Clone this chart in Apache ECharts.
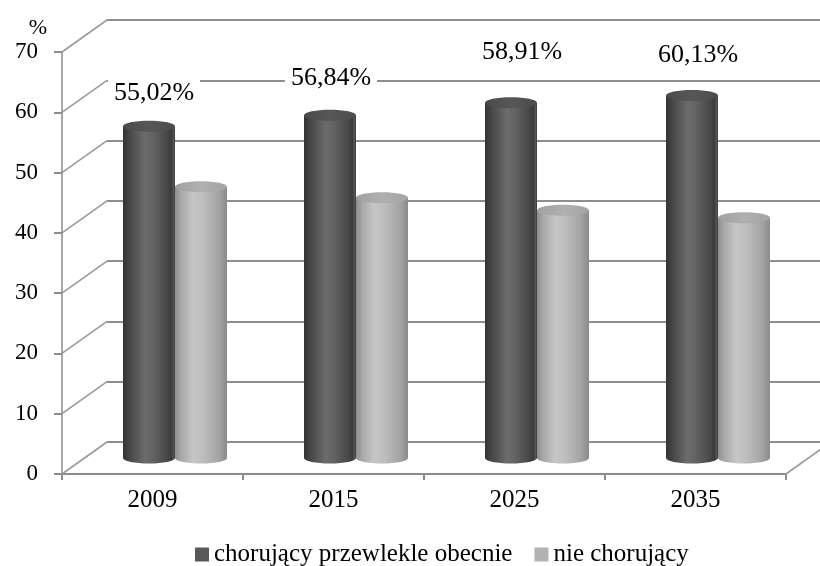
<!DOCTYPE html>
<html>
<head>
<meta charset="utf-8">
<script src="https://cdn.jsdelivr.net/npm/echarts@6/dist/echarts.min.js"></script>
<style>
  html, body { margin: 0; padding: 0; background: #fff; }
  #chart { width: 820px; height: 566px; }
</style>
</head>
<body>
<div id="chart"></div>
<script>
// Data
const years = ['2009', '2015', '2025', '2035'];
const chronicNow = [55.02, 56.84, 58.91, 60.13];
const notChronic = [44.98, 43.16, 41.09, 39.87];
const yTicks = [0, 10, 20, 30, 40, 50, 60, 70];
const seriesNames = ['chorujący przewlekle obecnie', 'nie chorujący'];

// Layout of the pseudo-3D box
const FRONT = { left: 62, top: 52, width: 724, height: 422 };
const DEPTH_X = 45, DEPTH_Y = -32;   // offset of the back wall
const BAR_W = 52, RY = 5.5;          // cylinder width and ellipse radius
// nudges for the value labels above the dark cylinders
const labelShift = [[5, -33], [1, -37], [11, -51], [6, -40]];

const SERIF = '"Liberation Serif", "Times New Roman", serif';
const G = echarts.graphic;

const darkBody = () => new G.LinearGradient(0, 0, 1, 0, [
  { offset: 0, color: '#343434' }, { offset: 0.15, color: '#4a4a4a' },
  { offset: 0.42, color: '#6c6c6c' }, { offset: 0.6, color: '#616161' },
  { offset: 0.85, color: '#474747' }, { offset: 0.93, color: '#3b3b3b' },
  { offset: 0.97, color: '#555555' }, { offset: 1, color: '#3a3a3a' }]);
const darkTop = () => new G.LinearGradient(0, 0, 1, 0, [
  { offset: 0, color: '#4a4a4a' }, { offset: 0.5, color: '#575757' }, { offset: 1, color: '#4c4c4c' }]);
const lightBody = () => new G.LinearGradient(0, 0, 1, 0, [
  { offset: 0, color: '#8e8e8e' }, { offset: 0.12, color: '#a8a8a8' },
  { offset: 0.35, color: '#c6c6c6' }, { offset: 0.55, color: '#bdbdbd' },
  { offset: 0.85, color: '#a3a3a3' }, { offset: 1, color: '#8a8a8a' }]);
const lightTop = () => new G.LinearGradient(0, 0, 1, 0, [
  { offset: 0, color: '#a0a0a0' }, { offset: 0.5, color: '#b0b0b0' }, { offset: 1, color: '#a4a4a4' }]);

function fmt(v) { return v.toFixed(2).replace('.', ',') + '%'; }

function cylinder(side) {
  return function (params, api) {
    const cat = api.value(0), v = api.value(1);
    const top = api.coord([cat, v]);
    const base = api.coord([cat, 0]);
    const cx = top[0] + DEPTH_X / 2 + (side === 0 ? -BAR_W / 2 : BAR_W / 2);
    const ty = top[1] + DEPTH_Y / 2;
    const by = base[1] + DEPTH_Y / 2;
    const hw = BAR_W / 2;
    const body = side === 0 ? darkBody : lightBody;
    const cap = side === 0 ? darkTop : lightTop;
    const children = [
      { type: 'ellipse', shape: { cx: cx, cy: by, rx: hw, ry: RY }, style: { fill: body() } },
      { type: 'rect', shape: { x: cx - hw, y: ty, width: BAR_W, height: by - ty }, style: { fill: body() } },
      { type: 'ellipse', shape: { cx: cx, cy: ty, rx: hw, ry: RY }, style: { fill: cap() } }
    ];
    if (side === 0) {
      const s = labelShift[params.dataIndex];
      children.push({
        type: 'text', z2: 50,
        x: cx + s[0], y: ty + s[1],
        style: {
          text: fmt(v), font: '26px ' + SERIF, fill: '#000',
          align: 'center', verticalAlign: 'middle',
          backgroundColor: '#fff', padding: [2, 6]
        }
      });
    }
    return { type: 'group', children: children };
  };
}

// Receding lines joining the front axis to the back wall
function depthLines(params, api) {
  const v = api.value(0);
  const p = api.coord([0, v]);
  const half = api.size([1, 0])[0] / 2;
  const x0 = p[0] - half;
  const lines = [{
    type: 'line',
    shape: { x1: x0, y1: p[1], x2: x0 + DEPTH_X, y2: p[1] + DEPTH_Y },
    style: { stroke: '#9a9a9a', lineWidth: 1.6 }
  }];
  if (v === 0) {
    const xr = api.coord([years.length - 1, 0])[0] + half;
    lines.push({
      type: 'line',
      shape: { x1: xr, y1: p[1], x2: xr + DEPTH_X, y2: p[1] + DEPTH_Y },
      style: { stroke: '#9a9a9a', lineWidth: 1.6 }
    });
  }
  return { type: 'group', children: lines };
}

const chart = echarts.init(document.getElementById('chart'), null, { renderer: 'canvas' });
chart.setOption({
  backgroundColor: '#fff',
  animation: false,
  grid: [
    { left: FRONT.left + DEPTH_X, top: FRONT.top + DEPTH_Y, width: FRONT.width, height: FRONT.height },
    { left: FRONT.left, top: FRONT.top, width: FRONT.width, height: FRONT.height }
  ],
  xAxis: [
    { gridIndex: 0, type: 'value', min: 0, max: 1, show: false },
    {
      gridIndex: 1, type: 'category', data: years, boundaryGap: true,
      axisLine: { lineStyle: { color: '#8c8c8c', width: 2 } },
      axisTick: { show: true, length: 6, lineStyle: { color: '#8c8c8c', width: 2 } },
      axisLabel: { color: '#000', fontFamily: SERIF, fontSize: 25, margin: 14 }
    }
  ],
  yAxis: [
    {
      gridIndex: 0, type: 'value', min: 0, max: 70, interval: 10,
      axisLine: { show: false }, axisTick: { show: false }, axisLabel: { show: false },
      splitLine: { show: true, lineStyle: { color: '#8e8e8e', width: 2 } }
    },
    {
      gridIndex: 1, type: 'value', min: 0, max: 70, interval: 10,
      name: '%', nameLocation: 'end', nameGap: 13,
      nameTextStyle: { color: '#000', fontFamily: SERIF, fontSize: 22, align: 'right', padding: [0, 15, 0, 0] },
      axisLine: { show: true, lineStyle: { color: '#a8a8a8', width: 2 } },
      axisTick: { show: true, length: 8, lineStyle: { color: '#8c8c8c', width: 2 } },
      axisLabel: { color: '#000', fontFamily: SERIF, fontSize: 23, margin: 24 },
      splitLine: { show: false }
    }
  ],
  legend: {
    data: seriesNames,
    left: 190, top: 537,
    icon: 'rect', itemWidth: 14, itemHeight: 14, itemGap: 22,
    textStyle: { color: '#000', fontFamily: SERIF, fontSize: 25 }
  },
  series: [
    {
      type: 'custom', name: 'depth', xAxisIndex: 1, yAxisIndex: 1, z: 1,
      renderItem: depthLines, data: yTicks.map(v => [v]), silent: true,
      encode: { y: 0 }
    },
    {
      type: 'custom', name: seriesNames[0], xAxisIndex: 1, yAxisIndex: 1, z: 3,
      itemStyle: { color: '#595959' },
      renderItem: cylinder(0), data: chronicNow.map((v, i) => [i, v])
    },
    {
      type: 'custom', name: seriesNames[1], xAxisIndex: 1, yAxisIndex: 1, z: 3,
      itemStyle: { color: '#b3b3b3' },
      renderItem: cylinder(1), data: notChronic.map((v, i) => [i, v])
    }
  ]
});
</script>
</body>
</html>
